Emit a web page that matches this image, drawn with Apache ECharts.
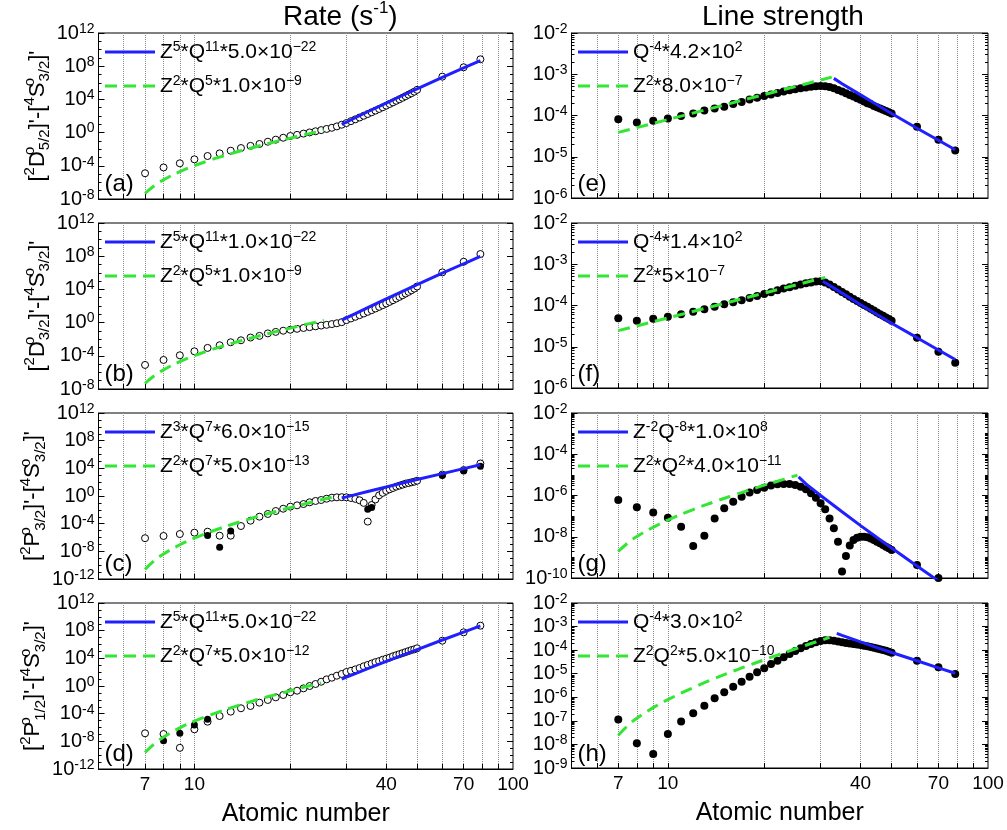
<!DOCTYPE html>
<html>
<head>
<meta charset="utf-8">
<script src="https://cdn.jsdelivr.net/npm/echarts@6/dist/echarts.min.js"></script>
<style>
html,body{margin:0;padding:0;background:#fff}
#chart{width:1007px;height:830px}
</style>
</head>
<body>
<div id="chart"></div>
<script>
// atomic numbers of the computed ions
var Z = [7,8,9,10,11,12,13,14,15,16,17,18,19,20,21,22,23,24,25,26,27,28,29,30,31,32,33,34,35,36,37,38,39,40,41,42,43,44,45,46,47,48,49,50,60,70,79];

// values below are log10 of the plotted quantity
var rateA = [-4.9,-4.2,-3.7,-3.22,-2.82,-2.5,-2.18,-1.86,-1.6,-1.37,
  -1.1,-0.85,-0.62,-0.41,-0.27,-0.12,0.02,0.16,0.3,0.44,
  0.58,0.75,0.95,1.15,1.38,1.6,1.82,2.03,2.24,2.45,
  2.65,2.85,3.05,3.25,3.45,3.64,3.83,4.02,4.2,4.39,
  4.57,4.75,4.93,5.15,6.74,7.87,8.83];
var rateB = [-5.1,-4.5,-3.94,-3.46,-3.05,-2.73,-2.37,-2.13,-1.8,-1.6,
  -1.3,-1.12,-0.98,-0.86,-0.75,-0.65,-0.55,-0.45,-0.36,-0.27,
  -0.18,-0.08,0.05,0.3,0.5,0.7,0.9,1.1,1.3,1.5,
  1.7,1.9,2.1,2.3,2.5,2.7,2.9,3.1,3.3,3.5,
  3.7,3.9,4.1,4.35,6.05,7.33,8.26];
var rateC = [-6.1,-5.78,-5.5,-5.3,-5.16,-5.74,-5.74,-4.34,-3.57,-2.99,
  -2.6,-2.17,-1.84,-1.54,-1.35,-1.16,-0.91,-0.72,-0.58,-0.39,
  -0.24,-0.19,-0.17,-0.19,-0.29,-0.42,-0.62,-1.0,-3.7,-1.3,
  -0.5,0.1,0.45,0.75,0.97,1.16,1.35,1.5,1.64,1.79,
  1.88,1.98,2.07,2.21,3.1,3.75,4.7];
var rateCFilledZ = [11,12,13,35,36,60,70,79];
var rateCFilled = [-5.7,-7.4,-5.06,-1.9,-1.65,2.95,3.6,4.3];
var rateD = [-6.84,-6.94,-8.94,-6.26,-5.16,-4.34,-3.71,-3.22,-2.89,-2.41,
  -2.02,-1.64,-1.3,-0.91,-0.68,-0.34,0.0,0.29,0.62,0.96,
  1.2,1.49,1.74,2.02,2.2,2.4,2.6,2.85,3.05,3.25,
  3.45,3.6,3.8,3.95,4.1,4.3,4.45,4.6,4.75,4.9,
  5.05,5.2,5.3,5.45,6.55,7.76,8.72];
var rateDFilledZ = [8,9,10,11];
var rateDFilled = [-7.9,-6.84,-5.64,-4.82];

var strengthE = [-4.09,-4.17,-4.13,-4.07,-4.01,-3.95,-3.88,-3.83,-3.79,-3.72,
  -3.67,-3.61,-3.57,-3.53,-3.49,-3.455,-3.42,-3.39,-3.365,-3.34,
  -3.32,-3.3,-3.29,-3.285,-3.29,-3.31,-3.34,-3.38,-3.42,-3.46,
  -3.5,-3.54,-3.58,-3.62,-3.66,-3.7,-3.73,-3.77,-3.8,-3.83,
  -3.86,-3.89,-3.92,-3.95,-4.27,-4.59,-4.85];
var strengthF = [-4.31,-4.37,-4.32,-4.27,-4.21,-4.15,-4.09,-4.03,-3.97,-3.92,
  -3.87,-3.82,-3.77,-3.72,-3.68,-3.63,-3.59,-3.56,-3.52,-3.49,
  -3.46,-3.44,-3.42,-3.41,-3.44,-3.49,-3.55,-3.61,-3.67,-3.73,
  -3.79,-3.84,-3.89,-3.94,-3.99,-4.03,-4.08,-4.12,-4.17,-4.21,
  -4.25,-4.29,-4.33,-4.37,-4.78,-5.12,-5.39];
var strengthG = [-6.22,-6.57,-6.83,-7.08,-7.51,-8.45,-7.95,-7.11,-6.62,-6.3,
  -6.06,-5.86,-5.73,-5.62,-5.52,-5.46,-5.44,-5.44,-5.49,-5.57,
  -5.7,-5.89,-6.11,-6.38,-6.67,-7.11,-7.59,-8.24,-9.69,-8.93,
  -8.43,-8.16,-8.05,-8.0,-8.0,-8.03,-8.09,-8.16,-8.24,-8.32,
  -8.4,-8.48,-8.56,-8.64,-9.37,-10.0,null];
var strengthH = [-6.94,-7.95,-8.41,-7.56,-7.03,-6.68,-6.36,-6.04,-5.79,-5.55,
  -5.34,-5.13,-4.94,-4.77,-4.59,-4.45,-4.3,-4.16,-4.04,-3.92,
  -3.82,-3.74,-3.67,-3.61,-3.58,-3.58,-3.6,-3.63,-3.67,-3.7,
  -3.72,-3.74,-3.76,-3.78,-3.81,-3.84,-3.87,-3.9,-3.93,-3.96,
  -3.99,-4.03,-4.07,-4.11,-4.45,-4.73,-5.01];

// fitted scaling laws (blue solid, green dashed), log10 values
var blueAZ = [29,30,32,35,40,45,50,60,70,79];
var blueA = [0.99,1.27,1.79,2.51,3.56,4.47,5.27,6.65,7.79,8.68];
var greenAZ = [7,7.5,8,9,10,11,12,13,14,15,16,18,20,22,24,25.5];
var greenA = [-7.31,-6.37,-5.69,-4.71,-3.99,-3.42,-2.95,-2.55,-2.19,-1.88,-1.59,-1.09,-0.67,-0.29,0.04,0.26];
var blueBZ = [29,30,32,35,40,45,50,60,70,79];
var blueB = [0.29,0.57,1.09,1.81,2.86,3.77,4.57,5.95,7.09,7.98];
var greenBZ = [7,7.5,8,9,10,11,12,13,14,15,16,18,20,22,24,25.5];
var greenB = [-7.31,-6.37,-5.69,-4.71,-3.99,-3.42,-2.95,-2.55,-2.19,-1.88,-1.59,-1.09,-0.67,-0.29,0.04,0.26];
var blueCZ = [29,30,32,35,40,45,50,60,70,79];
var blueC = [-0.3,-0.13,0.2,0.65,1.3,1.88,2.38,3.24,3.96,4.51];
var greenCZ = [7,7.5,8,9,10,11,12,13,14,15,16,18,20,22,24,26,28];
var greenC = [-10.61,-9.32,-8.39,-7.05,-6.09,-5.33,-4.7,-4.16,-3.69,-3.27,-2.89,-2.24,-1.68,-1.19,-0.75,-0.36,-0.01];
var blueDZ = [29,30,32,35,40,45,50,60,70,79];
var blueD = [0.99,1.27,1.79,2.51,3.56,4.47,5.27,6.65,7.79,8.68];
var greenDZ = [7,7.5,8,9,10,11,12,13,14,15,16,18,20,22,24,25];
var greenD = [-9.61,-8.32,-7.39,-6.05,-5.09,-4.33,-3.7,-3.16,-2.69,-2.27,-1.89,-1.24,-0.68,-0.19,0.25,0.45];
var blueEZ = [33,35,40,45,50,60,70,79];
var blueE = [-3.1,-3.23,-3.5,-3.74,-3.95,-4.31,-4.6,-4.83];
var greenEZ = [7,32.5];
var greenE = [-4.41,-3.07];
var blueFZ = [30.5,35,40,45,50,60,70,79];
var blueF = [-3.41,-3.7,-3.98,-4.22,-4.43,-4.78,-5.08,-5.31];
var greenFZ = [7,31];
var greenF = [-4.61,-3.32];
var blueGZ = [25.6,27,28,30,35,40,45,50,60,70];
var blueG = [-5.1,-5.44,-5.63,-6.0,-6.79,-7.46,-8.04,-8.55,-9.42,-10.14];
var greenGZ = [7,7.5,8,9,10,12,14,16,18,20,22,24,25.4];
var greenG = [-8.71,-8.3,-7.99,-7.54,-7.19,-6.68,-6.3,-5.99,-5.73,-5.5,-5.31,-5.13,-5.01];
var blueHZ = [33.7,35,40,45,50,60,70,79];
var blueH = [-3.29,-3.37,-3.65,-3.89,-4.1,-4.45,-4.75,-4.98];
var greenHZ = [7,7.5,8,9,10,12,14,16,18,20,22,24,26,28,30,32];
var greenH = [-7.61,-7.2,-6.89,-6.44,-6.1,-5.59,-5.2,-4.89,-4.63,-4.41,-4.21,-4.03,-3.87,-3.72,-3.59,-3.46];

var xTicks = [6,7,8,9,10,20,30,40,50,60,70,80,90];
var xLabels = [7,10,40,70,100];

var legendText = {
  a1: 'Z{s|5}*Q{s|11}*5.0×10{s|−22}', a2: 'Z{s|2}*Q{s|5}*1.0×10{s|−9}',
  b1: 'Z{s|5}*Q{s|11}*1.0×10{s|−22}', b2: 'Z{s|2}*Q{s|5}*1.0×10{s|−9}',
  c1: 'Z{s|3}*Q{s|7}*6.0×10{s|−15}', c2: 'Z{s|2}*Q{s|7}*5.0×10{s|−13}',
  d1: 'Z{s|5}*Q{s|11}*5.0×10{s|−22}', d2: 'Z{s|2}*Q{s|7}*5.0×10{s|−12}',
  e1: 'Q{s|-4}*4.2×10{s|2}', e2: 'Z{s|2}*8.0×10{s|−7}',
  f1: 'Q{s|-4}*1.4×10{s|2}', f2: 'Z{s|2}*5×10{s|−7}',
  g1: 'Z{s|-2}Q{s|-8}*1.0×10{s|8}', g2: 'Z{s|2}*Q{s|2}*4.0×10{s|−11}',
  h1: 'Q{s|-4}*3.0×10{s|2}', h2: 'Z{s|2}Q{s|2}*5.0×10{s|−10}'
};

var panels = [
  {key:'a', col:0, row:0, y:[-8,12,4], open:rateA, blue:[blueAZ,blueA], green:[greenAZ,greenA],
   yname:"[{s|2}D{o|o}{b|5/2}]'-[{s|4}S{o|o}{b|3/2}]'"},
  {key:'b', col:0, row:1, y:[-8,12,4], open:rateB, blue:[blueBZ,blueB], green:[greenBZ,greenB],
   yname:"[{s|2}D{o|o}{b|3/2}]'-[{s|4}S{o|o}{b|3/2}]'"},
  {key:'c', col:0, row:2, y:[-12,12,4], open:rateC, filled:[rateCFilledZ,rateCFilled], blue:[blueCZ,blueC], green:[greenCZ,greenC],
   yname:"[{s|2}P{o|o}{b|3/2}]'-[{s|4}S{o|o}{b|3/2}]'"},
  {key:'d', col:0, row:3, y:[-12,12,4], open:rateD, filled:[rateDFilledZ,rateDFilled], blue:[blueDZ,blueD], green:[greenDZ,greenD],
   yname:"[{s|2}P{o|o}{b|1/2}]'-[{s|4}S{o|o}{b|3/2}]'"},
  {key:'e', col:1, row:0, y:[-6,-2,1], dots:strengthE, blue:[blueEZ,blueE], green:[greenEZ,greenE]},
  {key:'f', col:1, row:1, y:[-6,-2,1], dots:strengthF, blue:[blueFZ,blueF], green:[greenFZ,greenF]},
  {key:'g', col:1, row:2, y:[-10,-2,2], dots:strengthG, blue:[blueGZ,blueG], green:[greenGZ,greenG]},
  {key:'h', col:1, row:3, y:[-9,-2,1], dots:strengthH, blue:[blueHZ,blueH], green:[greenHZ,greenH]}
];

var gridLeft = [98.5, 571.5], gridWidth = [414.5, 416.5], gridHeight = [166, 165];
var gridTop = [33, 223, 413, 603];
var FONT = 'Liberation Sans';
var BLUE = '#1f1fff', GREEN = '#33e633';

function pairs(xs, logs) {
  var out = [];
  xs.forEach(function (x, i) {
    if (logs[i] != null) out.push([x, Math.pow(10, logs[i])]);
  });
  return out;
}

var option = {
  animation: false,
  backgroundColor: '#fff',
  textStyle: {fontFamily: FONT, color: '#000'},
  title: [
    {text: 'Rate (s{s|-1})', left: 283, top: 0, padding: 0,
     textStyle: {fontFamily: FONT, fontSize: 28, fontWeight: 'normal', color: '#000', lineHeight: 34,
       rich: {s: {fontFamily: FONT, fontSize: 17, lineHeight: 17, verticalAlign: 'top', color: '#000'}}}},
    {text: 'Line strength', left: 702, top: 0, padding: 0,
     textStyle: {fontFamily: FONT, fontSize: 28, fontWeight: 'normal', color: '#000', lineHeight: 34}}
  ],
  legend: [], grid: [], xAxis: [], yAxis: [], series: []
};

panels.forEach(function (p, i) {
  var L = gridLeft[p.col], T = gridTop[p.row];
  option.grid.push({left: L, top: T, width: gridWidth[p.col], height: gridHeight[p.col],
    show: true, borderColor: '#000', borderWidth: 1, backgroundColor: 'transparent'});

  option.title.push({text: '(' + p.key + ')', left: L + 6, top: T + 139, padding: 0,
    textStyle: {fontFamily: FONT, fontSize: 24, fontWeight: 'normal', color: '#000'}});

  option.xAxis.push({
    gridIndex: i, type: 'log', logBase: 10, min: 5, max: 100,
    axisLine: {show: true, lineStyle: {color: '#000', width: 1}},
    axisTick: {show: true, inside: true, length: 5, customValues: xTicks, lineStyle: {color: '#000'}},
    axisLabel: {show: p.row === 3, customValues: xLabels, fontFamily: FONT, fontSize: 19, color: '#000', margin: 6},
    splitLine: {show: true, lineStyle: {color: '#8a8a8a', type: 'dotted', width: 1}},
    name: p.row === 3 ? 'Atomic number' : '', nameLocation: 'middle', nameGap: 33,
    nameTextStyle: {fontFamily: FONT, fontSize: 25, color: '#000'}
  });

  var lo = p.y[0], hi = p.y[1], step = p.y[2];
  var major = [], minor = [];
  for (var e = lo; e <= hi; e++) {
    if ((e - lo) % step === 0) major.push(Math.pow(10, e));
    else minor.push(Math.pow(10, e));
    if (step < 4 && e < hi) {
      for (var m = 2; m <= 9; m++) minor.push(m * Math.pow(10, e));
    }
  }
  var ymin = Math.pow(10, lo), ymax = Math.pow(10, hi);
  var baseY = {gridIndex: i, type: 'log', logBase: 10, min: ymin, max: ymax,
    splitLine: {show: false}, axisLine: {show: false}};
  // left, labelled
  option.yAxis.push(Object.assign({}, baseY, {
    position: 'left',
    axisLine: {show: true, lineStyle: {color: '#000'}},
    axisTick: {show: true, inside: true, length: 6, customValues: major, lineStyle: {color: '#000'}},
    axisLabel: {show: true, customValues: major, showMinLabel: true, showMaxLabel: true, hideOverlap: false,
      margin: 4, fontFamily: FONT, fontSize: 20, color: '#000', lineHeight: 22,
      formatter: function (v) { return '10{s|' + Math.round(Math.log10(v)) + '}'; },
      rich: {s: {fontFamily: FONT, fontSize: 14, lineHeight: 14, verticalAlign: 'top', color: '#000'}}},
    name: p.yname || '', nameLocation: 'middle', nameRotate: 90, nameGap: 46,
    nameTextStyle: {fontFamily: FONT, fontSize: 22, color: '#000', lineHeight: 30,
      rich: {
        s: {fontFamily: FONT, fontSize: 15, lineHeight: 15, verticalAlign: 'top', color: '#000'},
        o: {fontFamily: FONT, fontSize: 15, lineHeight: 15, verticalAlign: 'top', color: '#000', width: 1},
        b: {fontFamily: FONT, fontSize: 15, lineHeight: 15, verticalAlign: 'bottom', color: '#000'}
      }}
  }));
  // left minor ticks
  option.yAxis.push(Object.assign({}, baseY, {position: 'left',
    axisTick: {show: true, inside: true, length: 3, customValues: minor, lineStyle: {color: '#000'}},
    axisLabel: {show: false}}));
  // right mirror
  option.yAxis.push(Object.assign({}, baseY, {position: 'right',
    axisTick: {show: true, inside: true, length: 6, customValues: major, lineStyle: {color: '#000'}},
    axisLabel: {show: false}}));
  option.yAxis.push(Object.assign({}, baseY, {position: 'right',
    axisTick: {show: true, inside: true, length: 3, customValues: minor, lineStyle: {color: '#000'}},
    axisLabel: {show: false}}));

  var yIdx = 4 * i;
  if (p.open) {
    option.series.push({type: 'scatter', xAxisIndex: i, yAxisIndex: yIdx, data: pairs(Z, p.open),
      symbol: 'circle', symbolSize: 7, itemStyle: {color: '#fff', borderColor: '#000', borderWidth: 1, opacity: 1}, z: 2});
  }
  if (p.filled) {
    option.series.push({type: 'scatter', xAxisIndex: i, yAxisIndex: yIdx, data: pairs(p.filled[0], p.filled[1]),
      symbol: 'circle', symbolSize: 7, itemStyle: {color: '#000', opacity: 1}, z: 2});
  }
  if (p.dots) {
    option.series.push({type: 'scatter', xAxisIndex: i, yAxisIndex: yIdx, data: pairs(Z, p.dots),
      symbol: 'circle', symbolSize: 8, itemStyle: {color: '#000', opacity: 1}, z: 2});
  }
  option.series.push({type: 'line', name: p.key + '1', xAxisIndex: i, yAxisIndex: yIdx,
    data: pairs(p.blue[0], p.blue[1]), symbol: 'none', smooth: false,
    lineStyle: {color: BLUE, width: 3}, itemStyle: {color: BLUE}, z: 3});
  option.series.push({type: 'line', name: p.key + '2', xAxisIndex: i, yAxisIndex: yIdx,
    data: pairs(p.green[0], p.green[1]), symbol: 'none', smooth: true,
    lineStyle: {color: GREEN, width: 3, type: [12, 7]}, itemStyle: {color: GREEN}, z: 3});

  option.legend.push({
    left: L + 5, top: T + 7, orient: 'vertical', padding: 0, itemWidth: 50, itemHeight: 14, itemGap: 10,
    selectedMode: false, data: [p.key + '1', p.key + '2'],
    itemStyle: {color: 'transparent', borderColor: 'transparent', borderWidth: 0, opacity: 0},
    lineStyle: {width: 3},
    formatter: function (name) { return legendText[name]; },
    textStyle: {fontFamily: FONT, fontSize: 21, color: '#000', lineHeight: 24,
      rich: {s: {fontFamily: FONT, fontSize: 14, lineHeight: 14, verticalAlign: 'top', color: '#000'}}}
  });
});

var chart = echarts.init(document.getElementById('chart'));
chart.setOption(option);
window.addEventListener('resize', function () { chart.resize(); });
</script>
</body>
</html>
